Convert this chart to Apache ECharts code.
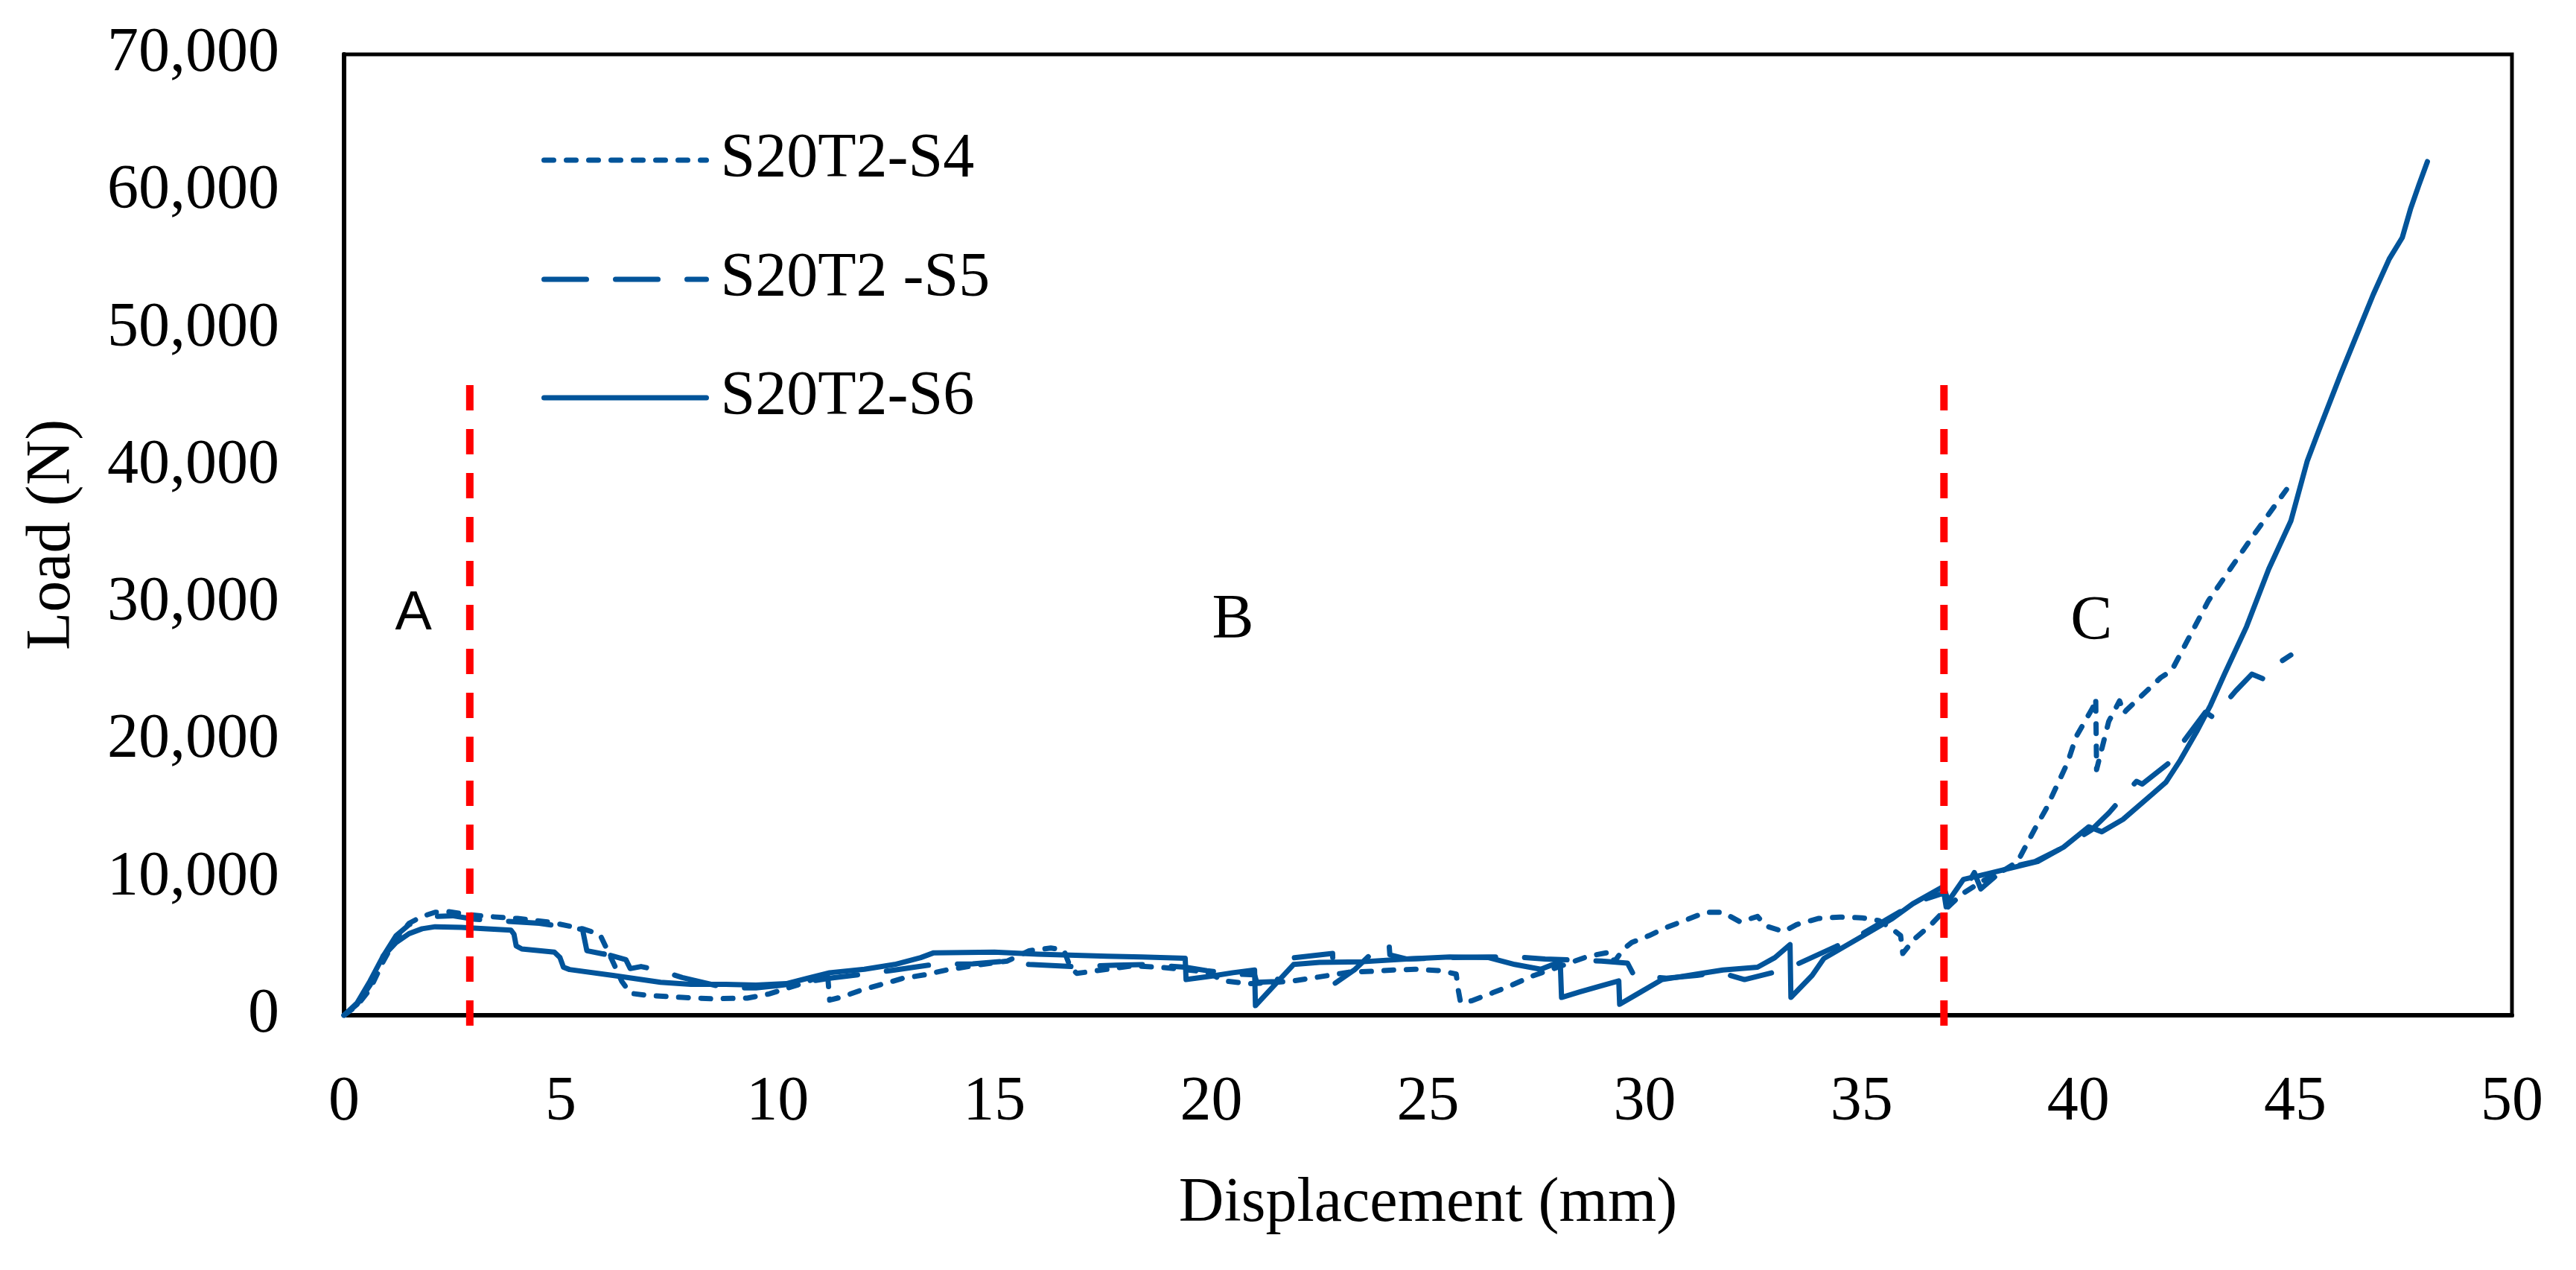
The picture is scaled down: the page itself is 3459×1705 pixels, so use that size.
<!DOCTYPE html>
<html><head><meta charset="utf-8">
<script src="https://cdn.jsdelivr.net/npm/echarts@6/dist/echarts.min.js"></script>
<style>html,body{margin:0;padding:0;background:#fff}#c{width:3459px;height:1705px}</style>
</head><body><div id="c"></div>
<script>
// ---- data (displacement mm, load N) ----
const seriesNames = ['S20T2-S4', 'S20T2 -S5', 'S20T2-S6'];
const s4Data = [[0,0],[0.3,700],[0.6,1900],[0.9,3900],[1.2,5600],[1.5,6700],[1.8,7200],[2.1,7500],[2.4,7550],[2.8,7350],[3.3,7200],[4.0,7050],[4.8,6750],[5.5,6300],[5.9,5900],[6.2,3900],[6.4,2500],[6.6,1600],[7.0,1450],[7.8,1300],[8.5,1200],[9.3,1250],[9.8,1550],[10.2,1950],[10.6,2350],[11.15,3050],[11.2,1100],[11.5,1350],[11.9,1800],[12.4,2250],[12.9,2700],[13.4,2950],[13.9,3300],[14.6,3650],[15.3,3950],[15.8,4700],[16.3,4900],[16.6,4750],[16.75,3500],[16.9,3050],[17.6,3350],[18.2,3600],[19.0,3450],[19.9,3150],[20.3,2500],[20.9,2300],[21.5,2400],[21.9,2500],[22.3,2700],[22.7,2900],[23.2,3150],[23.7,3200],[24.2,3300],[24.7,3350],[25.3,3250],[25.65,3000],[25.7,1800],[25.75,950],[26.0,1050],[26.5,1650],[26.9,2150],[27.4,2850],[27.9,3400],[28.7,4300],[29.2,4600],[29.3,3900],[29.5,4800],[29.7,5300],[30.1,5800],[30.5,6400],[31.0,7000],[31.4,7500],[31.8,7500],[32.2,6800],[32.6,7200],[32.8,6500],[33.2,6100],[33.5,6600],[34.0,7050],[34.5,7150],[35.0,7100],[35.4,6900],[35.7,6300],[35.9,5800],[35.95,4500],[36.2,5500],[36.6,6600],[36.9,7600],[37.3,8800],[37.8,9800],[38.3,10600],[38.6,11200],[38.8,12400],[39.0,13600],[39.25,15000],[39.5,16700],[39.75,18400],[39.95,20300],[40.33,22400],[40.4,23100],[40.42,17900],[40.7,21400],[40.95,22900],[41.05,22000],[41.1,22200],[41.6,23700],[41.9,24600],[42.15,25100],[42.5,27200],[43.0,30200],[43.5,32500],[44.0,34800],[44.8,38300]];
const s5Data = [[0,0],[0.3,800],[0.6,2200],[0.9,4300],[1.2,5800],[1.5,6600],[1.8,7000],[2.1,7200],[2.5,7250],[3.0,7000],[3.5,6900],[4.5,6700],[5.5,6250],[5.6,4700],[6.0,4450],[6.05,5400],[6.1,4400],[6.5,4050],[6.6,3400],[6.85,3550],[7.3,3250],[7.8,2750],[8.8,2000],[9.5,2000],[10.0,2150],[10.5,2350],[11.2,2700],[12.0,3000],[12.7,3300],[13.6,3700],[14.5,3750],[15.3,3950],[15.8,3700],[16.8,3550],[17.8,3650],[18.5,3700],[19.4,3500],[19.9,3250],[20.5,3000],[21.0,2950],[21.05,2400],[21.5,2450],[21.8,4150],[22.8,4500],[22.82,2250],[23.3,3300],[23.8,4800],[24.1,5250],[24.12,4400],[24.5,4100],[25.5,4200],[26.4,4250],[27.0,4250],[27.7,4100],[28.5,4000],[29.0,3950],[29.6,3800],[29.75,2900],[30.5,2700],[31.2,2900],[31.7,3150],[32.3,2600],[33.0,3150],[33.5,3700],[34.4,5000],[35.0,5900],[35.7,7200],[36.3,8300],[36.9,8900],[36.95,7900],[37.3,8700],[37.6,10400],[37.75,9200],[38.3,10700],[39.0,11200],[39.7,12300],[40.3,13500],[40.71,14760],[41.34,17040],[41.47,16840],[42.1,18410],[42.43,19970],[42.93,22080],[43.11,21700],[43.63,23630],[44.0,24850],[44.27,24500],[44.3,25000],[44.9,26240]];
const s6Data = [[0,0],[0.3,900],[0.6,2500],[0.9,4300],[1.2,5300],[1.5,5950],[1.8,6300],[2.1,6450],[2.7,6400],[3.3,6300],[3.85,6200],[3.92,5900],[3.97,5050],[4.1,4830],[4.85,4600],[4.98,4200],[5.06,3500],[5.2,3330],[6.2,2900],[7.3,2400],[8.0,2250],[8.8,2250],[9.5,2200],[10.2,2300],[10.7,2700],[11.2,3100],[12.0,3350],[12.7,3700],[13.3,4200],[13.6,4550],[15.0,4600],[16.0,4450],[17.6,4300],[18.4,4250],[19.4,4150],[19.42,2600],[20.0,2850],[20.5,3100],[21.0,3300],[21.02,700],[21.9,3700],[22.5,3850],[23.5,3900],[24.5,4100],[25.5,4250],[26.4,4200],[27.0,3700],[27.6,3350],[28.05,3900],[28.08,1300],[28.5,1700],[29.0,2150],[29.4,2500],[29.42,800],[29.8,1500],[30.4,2600],[31.2,3000],[31.8,3300],[32.6,3500],[33.0,4200],[33.35,5150],[33.37,1300],[33.86,2900],[34.13,4140],[35.02,5770],[35.71,7040],[36.18,8120],[36.89,9390],[37.0,8300],[37.35,9900],[37.88,10290],[39.06,11200],[39.66,12250],[40.24,13730],[40.54,13370],[41.03,14270],[41.72,16150],[42.02,16980],[42.35,18580],[42.73,20670],[43.05,22600],[43.37,24850],[43.88,28320],[44.39,32500],[44.9,36000],[45.28,40390],[45.53,42480],[46.04,46620],[46.42,49560],[46.8,52500],[47.17,55100],[47.47,56650],[47.66,58730],[47.85,60460],[48.05,62190]];
const xMin = 0, xMax = 50, xStep = 5;
const yMin = 0, yMax = 70000, yStep = 10000;
const boundaryX = [2.9, 36.9];
const boundaryY = [-760, 46400];
const phaseNames = ['A', 'B', 'C'];
const phaseX = [1.6, 20.5, 40.3];
const phaseY = [29200, 28700, 28600];

// ---- styling ----
const BLUE = '#02549A';
const SERIF = '"Liberation Serif", "Times New Roman", serif';
const SANS = '"Liberation Sans", Arial, sans-serif';
const FS = 84;
const dashes = { 'S20T2-S4': [13, 17], 'S20T2 -S5': [57, 39], 'S20T2-S6': 'solid' };
const dataByName = { 'S20T2-S4': s4Data, 'S20T2 -S5': s5Data, 'S20T2-S6': s6Data };
const legendTops = [173, 333, 492];

const chart = echarts.init(document.getElementById('c'), null, { renderer: 'canvas' });

const lineSeries = seriesNames.map(n => ({
  name: n, type: 'line', data: dataByName[n], symbol: 'none', showSymbol: false,
  z: 3, animation: false,
  lineStyle: { color: BLUE, width: 7, type: dashes[n], cap: 'round', join: 'round' },
  itemStyle: { color: BLUE }
}));

const boundarySeries = boundaryX.map((bx, i) => ({
  name: 'boundary' + i, type: 'line', clip: false, symbol: 'none', z: 4, animation: false,
  data: [[bx, boundaryY[0]], [bx, boundaryY[1]]],
  lineStyle: { color: '#FF0000', width: 10, type: [34, 25], cap: 'butt' }
}));

const labelSeries = {
  name: 'phases', type: 'scatter', symbolSize: 1, z: 5, animation: false,
  itemStyle: { color: '#ffffff', opacity: 1 },
  emphasis: { disabled: true },
  data: phaseNames.map((p, i) => ({
    name: p, value: [phaseX[i], phaseY[i]],
    label: { show: true, position: 'inside', formatter: '{b}', color: '#000000', opacity: 1,
      textBorderWidth: 0, textShadowBlur: 0,
      fontSize: i === 0 ? 74 : FS, fontFamily: i === 0 ? SANS : SERIF }
  }))
};

const legends = seriesNames.map((n, i) => ({
  data: [n], left: 727, top: legendTops[i], orient: 'horizontal', padding: 0,
  itemWidth: 218, itemHeight: 4, selectedMode: false,
  itemStyle: { opacity: 0 },
  lineStyle: { width: 7 },
  textStyle: { fontSize: FS, fontFamily: SERIF, color: '#000', padding: [0, 0, 0, 14] }
}));

chart.setOption({
  backgroundColor: '#fff',
  animation: false,
  legend: legends,
  grid: { left: 462, right: 86, top: 73, bottom: 342, show: true, borderColor: '#000', borderWidth: 5, containLabel: false },
  xAxis: {
    type: 'value', min: xMin, max: xMax, interval: xStep,
    name: 'Displacement (mm)', nameLocation: 'middle', nameGap: 212,
    nameTextStyle: { fontSize: FS, fontFamily: SERIF, color: '#000' },
    axisLine: { show: true, lineStyle: { color: '#000', width: 6 } },
    axisTick: { show: false }, splitLine: { show: false },
    axisLabel: { fontSize: FS, fontFamily: SERIF, color: '#000', margin: 76 }
  },
  yAxis: {
    type: 'value', min: yMin, max: yMax, interval: yStep,
    name: 'Load (N)', nameLocation: 'middle', nameGap: 349,
    nameTextStyle: { fontSize: FS, fontFamily: SERIF, color: '#000' },
    axisLine: { show: true, lineStyle: { color: '#000', width: 6 } },
    axisTick: { show: false }, splitLine: { show: false },
    axisLabel: { fontSize: FS, fontFamily: SERIF, color: '#000', margin: 87,
      formatter: v => v.toLocaleString('en-US') }
  },
  series: [...lineSeries, ...boundarySeries, labelSeries]
});
</script></body></html>
